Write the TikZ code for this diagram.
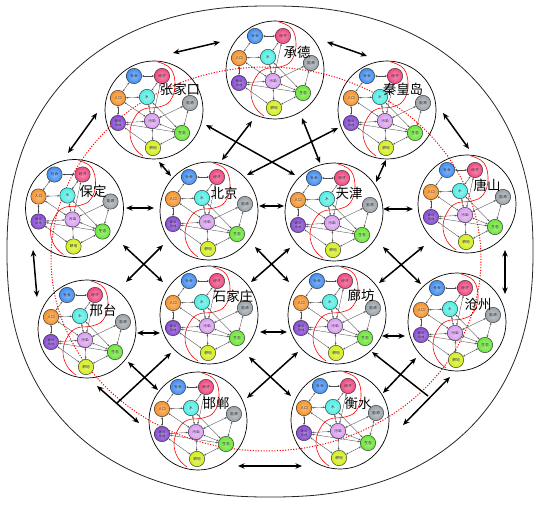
\documentclass[tikz,border=0pt]{standalone}
\usepackage{fontspec}
\newfontfamily\cjk{Noto Sans CJK SC}
\usetikzlibrary{arrows.meta}
\definecolor{cshe}{HTML}{3F8CF0}
\definecolor{cjing}{HTML}{F0457F}
\definecolor{cren}{HTML}{F5922A}
\definecolor{cshui}{HTML}{4FEDE4}
\definecolor{cneng}{HTML}{9AA2A8}
\definecolor{cjian}{HTML}{8648D6}
\definecolor{cwu}{HTML}{DA9EF2}
\definecolor{csheng}{HTML}{6AE636}
\definecolor{cgeng}{HTML}{D4EE1C}
\tikzset{
 sub/.style={circle, minimum size=15.4bp, inner sep=0pt, draw=black!80, line width=0.45bp,
   shading=radial, inner color=#1!60!white, outer color=#1, text=black!85,
   font=\cjk\fontsize{3.7}{4}\selectfont, align=center},
 link/.style={draw=black!70, line width=0.35bp,
   {Stealth[length=2.2bp,width=1.8bp]}-{Stealth[length=2.2bp,width=1.8bp]}},
 big/.style={line width=1.5bp, {Stealth[length=6.5bp,width=5.5bp]}-{Stealth[length=6.5bp,width=5.5bp]}},
 bighalf/.style={line width=1.5bp, -{Stealth[length=6.5bp,width=5.5bp]}},
 citycircle/.style={circle, draw=black, line width=0.7bp, minimum size=98bp, inner sep=0pt},
 citylabel/.style={font=\cjk\fontsize{13.5}{14}\selectfont, inner sep=0pt},
 sepcurve/.style={red, line width=0.6bp}
}
\newcommand\drawcity[5]{%
\begin{scope}[shift={(#2,#3)}]
 \node[citycircle] (#1) at (0,0) {};
 \draw[sepcurve] plot[smooth, tension=0.7] coordinates {(4,-48) (17,-41) (21,-24) (16,-9) (5,-3) (-10,-1) (-19,7) (-24,22) (-20,37) (-11,46)};
 \node[sub=cshe] (#1she) at (-20,-34) {社会};
 \node[sub=cjing] (#1jing) at (8,-34) {经济};
 \node[sub=cren] (#1ren) at (-36,-12) {人口};
 \node[sub=cshui] (#1shui) at (-7,-13) {水};
 \node[sub=cneng] (#1neng) at (36,-7) {能源};
 \node[sub=cjian, font=\cjk\fontsize{3.3}{3.6}\selectfont] (#1jian) at (-36,13) {建设\\用地};
 \node[sub=cwu] (#1wu) at (-2,11) {污染};
 \node[sub=csheng] (#1sheng) at (28,23) {生态};
 \node[sub=cgeng] (#1geng) at (-1,38) {耕地};
 \draw[link] (#1she) -- (#1jing);
 \draw[link] (#1she) -- (#1ren);
 \draw[link] (#1ren) -- (#1shui);
 \draw[link] (#1jing) -- (#1shui);
 \draw[link] (#1jing) -- (#1wu);
 \draw[link] (#1shui) -- (#1wu);
 \draw[link] (#1ren) -- (#1wu);
 \draw[link] (#1shui) -- (#1sheng);
 \draw[link] (#1neng) -- (#1wu);
 \draw[link] (#1neng) -- (#1sheng);
 \draw[link] (#1wu) -- (#1sheng);
 \draw[link] (#1wu) -- (#1geng);
 \draw[link] (#1sheng) -- (#1geng);
 \draw[link] (#1ren) -- (#1jian);
 \draw[link] (#1jian) -- (#1wu);
 \draw[link] (#1jian) -- (#1sheng);
 \draw[link] (#1jian) -- (#1geng);
 \node[citylabel] (#1lab) at #5 {#4};
\end{scope}}
\newcommand\bigarrow[3]{\coordinate (#1a) at (#2); \coordinate (#1b) at (#3); \draw[big] (#1a) -- (#1b);}
\newcommand\halfarrow[3]{\coordinate (#1a) at (#2); \coordinate (#1b) at (#3); \draw[bighalf] (#1a) -- (#1b);}
\begin{document}
\begin{tikzpicture}[x=1bp,y=-1bp]
\useasboundingbox (0,0) rectangle (540,506);
% outer rounded ellipse
\draw[line width=0.8bp, black!85] plot[domain=0.5:360.5, samples=181, smooth]
  ({270+263*sign(cos(\x))*pow(abs(cos(\x)),0.87)}, {251.5+245.5*sign(sin(\x))*pow(abs(sin(\x)),0.87)}) -- cycle;
% red dotted ring
\draw[red, line width=1bp, dash pattern=on 1.1bp off 1.6bp] (266,259) ellipse [x radius=215, y radius=192];
% cities
\drawcity{cd}{275}{70}{承德}{(22,-18)}
\drawcity{zjk}{154}{110}{张家口}{(26,-21)}
\drawcity{qhd}{387}{110}{秦皇岛}{(16,-21)}
\drawcity{bd}{74.5}{208.5}{保定}{(18.5,-17.5)}
\drawcity{bj}{209}{211}{北京}{(15,-18)}
\drawcity{tj}{334}{212}{天津}{(15,-19)}
\drawcity{ts}{467}{204}{唐山}{(20,-19)}
\drawcity{xt}{87}{329}{邢台}{(16,-19)}
\drawcity{sjz}{209}{315}{石家庄}{(24,-19)}
\drawcity{lf}{337}{315}{廊坊}{(24,-20)}
\drawcity{cz}{457}{322}{沧州}{(21,-18)}
\drawcity{hd}{198}{421}{邯郸}{(18,-18)}
\drawcity{hs}{340}{420}{衡水}{(18,-17)}
% big arrows
\bigarrow{r1}{173,53}{220,42}
\bigarrow{r2}{327,42}{367,56}
\bigarrow{r3}{97,113}{68,153}
\bigarrow{r4}{443,113}{469,149}
\bigarrow{r5}{33,250}{37,297}
\bigarrow{r6}{505,250}{505,294}
\bigarrow{r7}{97,386}{139,423}
\bigarrow{r8}{238,466}{302,466}
\bigarrow{r9}{450,377}{403,425}
\bigarrow{c1}{206,125}{295,175}
\bigarrow{c2}{247,175}{338,128}
\bigarrow{c3}{222,160}{252,121}
\bigarrow{c4}{302,118}{320,163}
\bigarrow{c5}{159,162}{171,176}
\bigarrow{c6}{386,160}{376,182}
\bigarrow{h1}{126,208}{154,208}
\bigarrow{h2}{259,206}{284,206}
\bigarrow{h3}{383,209}{413,209}
\bigarrow{x1}{123,245}{163,282}
\bigarrow{x2}{163,245}{126,282}
\bigarrow{x3}{255,247}{289,282}
\bigarrow{x4}{290,248}{251,282}
\bigarrow{x5}{383,247}{421,284}
\bigarrow{x6}{424,246}{379,283}
\bigarrow{h4}{137,333}{160,333}
\bigarrow{h5}{260,332}{287,332}
\bigarrow{h6}{382,336}{405,336}
\bigarrow{y1}{128,362}{158,390}
\bigarrow{y2}{249,357}{291,396}
\bigarrow{y3}{298,352}{247,398}
\bigarrow{y4}{416,358}{383,393}
\halfarrow{t1}{117,403}{171,353}
\halfarrow{t2}{428,396}{372,352}
\end{tikzpicture}
\end{document}
